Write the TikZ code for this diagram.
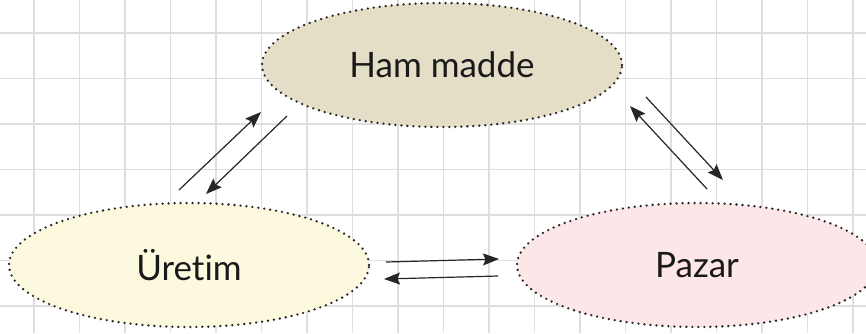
\documentclass[tikz,border=0pt]{standalone}
\usepackage{fontspec}
\setmainfont{Lato}[Ligatures=NoCommon]
\usetikzlibrary{shapes.geometric,arrows.meta}
\definecolor{hamfill}{HTML}{E4DEC6}
\definecolor{uretimfill}{HTML}{FDF9DF}
\definecolor{pazarfill}{HTML}{FCE6E8}
\definecolor{gridgray}{HTML}{DEDEDE}

\begin{document}
\begin{tikzpicture}[
  x=1pt, y=-1pt,
  font=\fontsize{35}{40}\selectfont,
  blob/.style={ellipse, draw=black!85, line width=2.6pt, dash pattern=on 0pt off 6pt, line cap=round,
               minimum width=360pt, minimum height=124pt, inner sep=0pt, text=black!90},
  gridline/.style={draw=gridgray, line width=1.2pt},
  arr/.style={-{Stealth[length=16pt,width=12pt,inset=2.5pt]}, line width=1.2pt, black!85},
]
% background and grid
\fill[white] (0,0) rectangle (866,333);
\useasboundingbox (0,0) rectangle (866,333);
\foreach \i in {0,...,18} \draw[gridline] ({34+45.5*\i},0) -- ({34+45.5*\i},333);
\foreach \j in {0,...,6} \draw[gridline] (0,{33+45.5*\j}) -- (866,{33+45.5*\j});
% the three stages
\node[blob, fill=hamfill] (ham) at (442,65) {Ham madde};
\node[blob, fill=uretimfill] (uretim) at (189,265) {Üretim};
\node[blob, fill=pazarfill] (pazar) at (697,265) {Pazar};
% arrow ends
\coordinate (hu1s) at (179,190); \coordinate (hu1e) at (261,112);
\coordinate (hu2s) at (287,116); \coordinate (hu2e) at (206,194);
\coordinate (hp1s) at (707,189); \coordinate (hp1e) at (630,106);
\coordinate (hp2s) at (646,97);  \coordinate (hp2e) at (723,180);
\coordinate (up1s) at (386,262); \coordinate (up1e) at (499,259);
\coordinate (up2s) at (498,276); \coordinate (up2e) at (384,279);
% arrows
\draw[arr] (hu1s) -- (hu1e); \draw[arr] (hu2s) -- (hu2e);
\draw[arr] (hp1s) -- (hp1e); \draw[arr] (hp2s) -- (hp2e);
\draw[arr] (up1s) -- (up1e); \draw[arr] (up2s) -- (up2e);
\end{tikzpicture}
\end{document}
